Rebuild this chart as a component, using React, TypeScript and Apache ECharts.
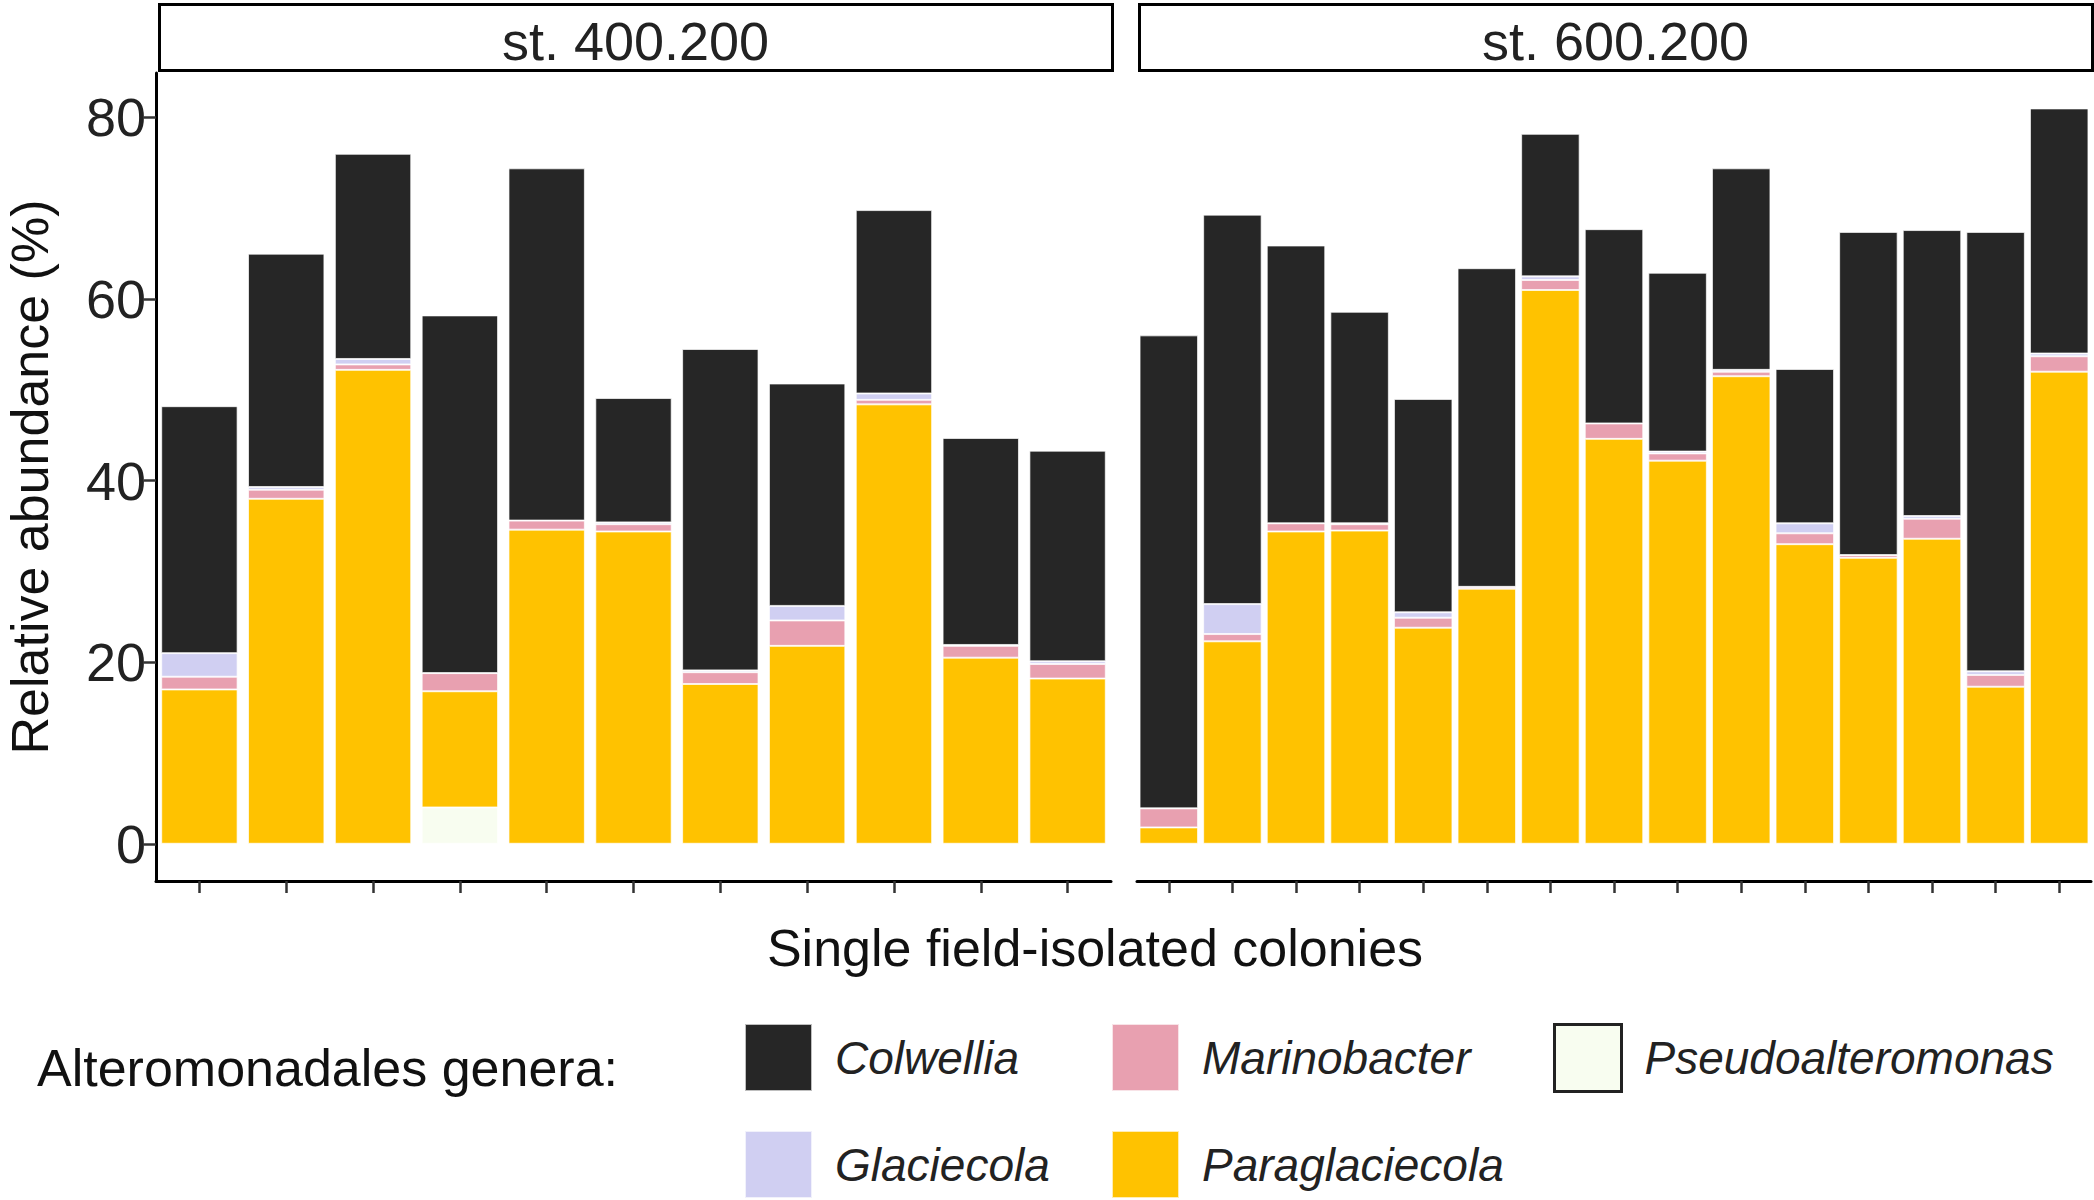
import { useEffect, useRef } from "react";
import * as echarts from "echarts";

// stack order bottom-up: Pseudoalteromonas, Paraglaciecola, Marinobacter, Glaciecola, Colwellia
const GENERA = ["Pseudoalteromonas", "Paraglaciecola", "Marinobacter", "Glaciecola", "Colwellia"];
const COLORS = {
  Pseudoalteromonas: "#f8fdf0",
  Paraglaciecola: "#ffc200",
  Marinobacter: "#e8a0b0",
  Glaciecola: "#d0cff2",
  Colwellia: "#262626",
};

// st. 400.200 (11 colonies)
const left_pseudo = [0, 0, 0, 4, 0, 0, 0, 0, 0, 0, 0];
const left_para = [17, 38, 52.2, 12.8, 34.6, 34.4, 17.6, 21.8, 48.4, 20.5, 18.2];
const left_mar = [1.4, 1, 0.6, 2, 1, 0.8, 1.3, 2.8, 0.5, 1.3, 1.6];
const left_glac = [2.6, 0.3, 0.6, 0, 0, 0.2, 0.2, 1.6, 0.7, 0.1, 0.3];
const left_colw = [27.2, 25.7, 22.6, 39.4, 38.8, 13.7, 35.4, 24.5, 20.2, 22.8, 23.2];

// st. 600.200 (15 colonies)
const right_pseudo = [0, 0, 0, 0, 0, 0, 0, 0, 0, 0, 0, 0, 0, 0, 0];
const right_para = [1.8, 22.3, 34.4, 34.5, 23.8, 28.1, 61, 44.6, 42.2, 51.5, 33, 31.5, 33.6, 17.3, 52];
const right_mar = [2.1, 0.8, 0.9, 0.7, 1.1, 0.2, 1.1, 1.7, 0.8, 0.5, 1.2, 0.3, 2.2, 1.3, 1.7];
const right_glac = [0, 3.3, 0, 0.1, 0.6, 0, 0.4, 0, 0.2, 0.2, 1.1, 0, 0.3, 0.4, 0.3];
const right_colw = [52.1, 42.9, 30.6, 23.3, 23.5, 35.1, 15.7, 21.4, 19.7, 22.2, 17, 35.6, 31.5, 48.4, 27];

const Y_TICKS = [0, 20, 40, 60, 80];
const PANELS = ["st. 400.200", "st. 600.200"];
// legend layout: [name, left, top]
const LEGEND_ITEMS = [
  ["Colwellia", 744, 1023],
  ["Marinobacter", 1111, 1023],
  ["Pseudoalteromonas", 1553, 1023],
  ["Glaciecola", 744, 1130],
  ["Paraglaciecola", 1111, 1130],
];

const FONT = "Liberation Sans";

export default function App() {
  const ref = useRef<HTMLDivElement>(null);

  useEffect(() => {
    document.body.style.margin = "0";
    const chart = echarts.init(ref.current, undefined, { renderer: "svg" });
    const leftData = [left_pseudo, left_para, left_mar, left_glac, left_colw];
    const rightData = [right_pseudo, right_para, right_mar, right_glac, right_colw];

    const mkSeries = (data: number[][], idx: number, gap: string) =>
      GENERA.map((g, i) => ({
        type: "bar",
        name: g,
        stack: "s" + idx,
        xAxisIndex: idx,
        yAxisIndex: idx,
        barCategoryGap: gap,
        data: data[i],
        itemStyle: { color: COLORS[g], borderColor: "rgba(255,255,255,0.7)", borderWidth: 1 },
      }));

    const yAxisBase = {
      type: "value",
      min: -4.1,
      max: 84.9,
      splitLine: { show: false },
      axisLine: { show: false },
    };

    const xAxisBase = {
      type: "category",
      axisLine: { show: true, onZero: false, lineStyle: { color: "#000", width: 3 } },
      axisTick: { show: true, alignWithLabel: true, length: 12, lineStyle: { color: "#333", width: 2.5 } },
      axisLabel: { show: false },
    };

    chart.setOption({
      animation: false,
      grid: [
        { left: 156, top: 73, width: 955, height: 808 },
        { left: 1137, top: 73, width: 954, height: 808 },
      ],
      xAxis: [
        { ...xAxisBase, gridIndex: 0, data: left_para.map((_, i) => "L" + (i + 1)) },
        { ...xAxisBase, gridIndex: 1, data: right_para.map((_, i) => "R" + (i + 1)) },
      ],
      yAxis: [
        {
          ...yAxisBase,
          gridIndex: 0,
          axisLine: { show: true, onZero: false, lineStyle: { color: "#000", width: 3 } },
          axisTick: { show: true, length: 12, customValues: Y_TICKS, lineStyle: { color: "#333", width: 2.5 } },
          axisLabel: {
            customValues: Y_TICKS,
            fontFamily: FONT,
            fontSize: 54,
            color: "#222",
            margin: 10,
          },
          name: "Relative abundance (%)",
          nameLocation: "middle",
          nameGap: 100,
          nameTextStyle: { fontFamily: FONT, fontSize: 52, color: "#111" },
        },
        {
          ...yAxisBase,
          gridIndex: 1,
          axisTick: { show: false },
          axisLabel: { show: false },
        },
      ],
      legend: LEGEND_ITEMS.map(([name, left, top]) => ({
        left,
        top,
        padding: 0,
        itemWidth: 67,
        itemHeight: 67,
        icon: "rect",
        selectedMode: false,
        textStyle: { fontFamily: FONT, fontSize: 46, fontStyle: "italic", color: "#222", padding: [0, 0, 0, 18] },
        data: [
          name === "Pseudoalteromonas"
            ? { name, itemStyle: { borderColor: "#222", borderWidth: 3 } }
            : { name },
        ],
      })),
      graphic: [
        ...PANELS.map((p, i) => ({
          type: "group",
          left: i === 0 ? 158 : 1138,
          top: 3,
          children: [
            {
              type: "rect",
              shape: { x: 0, y: 0, width: 953, height: 66 },
              style: { fill: "#fff", stroke: "#000", lineWidth: 3 },
            },
            {
              type: "text",
              x: 476,
              y: 36,
              style: {
                text: p,
                fontFamily: FONT,
                fontSize: 54,
                fill: "#222",
                align: "center",
                verticalAlign: "middle",
              },
            },
          ],
        })),
        {
          type: "text",
          x: 1095,
          y: 948,
          style: {
            text: "Single field-isolated colonies",
            fontFamily: FONT,
            fontSize: 52,
            fill: "#111",
            align: "center",
            verticalAlign: "middle",
          },
        },
        {
          type: "text",
          x: 37,
          y: 1068,
          style: {
            text: "Alteromonadales genera:",
            fontFamily: FONT,
            fontSize: 52,
            fill: "#111",
            verticalAlign: "middle",
          },
        },
      ],
      series: [...mkSeries(leftData, 0, "12%"), ...mkSeries(rightData, 1, "8%")],
    });

    return () => chart.dispose();
  }, []);

  return <div ref={ref} style={{ width: 2094, height: 1200, background: "#fff" }} />;
}
